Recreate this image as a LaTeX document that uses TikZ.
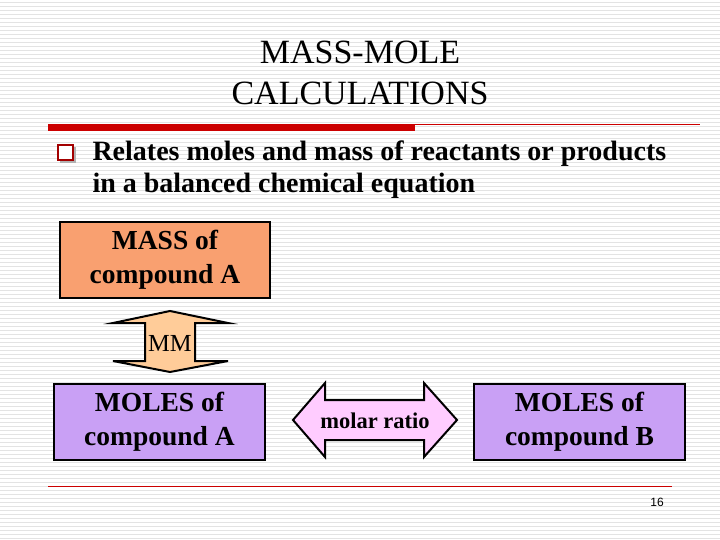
\documentclass[tikz,border=0pt]{standalone}
\usepackage{fontspec}
\setmainfont{Liberation Serif}
\newfontfamily\sansf{Liberation Sans}
\definecolor{salmon}{HTML}{F9A070}
\definecolor{lav}{HTML}{C9A0F5}
\definecolor{pinkl}{HTML}{FFCCFF}
\definecolor{peach}{HTML}{FFCC99}
\definecolor{dred}{HTML}{CC0000}
\begin{document}
\begin{tikzpicture}[x=1pt,y=-1pt,
  box/.style={draw=black,line width=2pt,align=center,font=\fontsize{27.5}{34}\selectfont\bfseries,inner sep=0pt},
  arr/.style={draw=black,line width=2pt,line join=miter}]
\useasboundingbox (0,0) rectangle (720,540);
\fill[white] (0,0) rectangle (720,540);
\foreach \y in {2,6,...,538} \draw[gray!22,line width=0.8pt] (0,\y) -- (720,\y);
\node (title) at (360,73) [align=center,font=\fontsize{34}{41}\selectfont] {MASS-MOLE\\CALCULATIONS};
\fill[dred] (48,124) rectangle (415,131);
\draw[dred,line width=0.8pt] (415,124.5) -- (700,124.5);
\fill[gray!60] (60,147) rectangle (76,163);
\draw[dred!80!black,line width=1.5pt,fill=white] (58,145) rectangle (73,160);
\node (txt) at (89,170) [anchor=west,align=left,font=\fontsize{28}{32}\selectfont\bfseries] {Relates moles and mass of reactants or products\\in a balanced chemical equation};
\node[box,fill=salmon,minimum width=210,minimum height=76] (mass) at (165,260) {MASS of\\compound A};
\node[box,fill=lav,minimum width=211,minimum height=76] (molA) at (159.5,422) {MOLES of\\compound A};
\node[box,fill=lav,minimum width=211,minimum height=76] (molB) at (579.5,422) {MOLES of\\compound B};
\draw[arr,fill=peach] (170,311) -- (228,323) -- (195,323) -- (195,361) -- (228,361) -- (170,372) -- (113,361) -- (145,361) -- (145,323) -- (113,323) -- cycle;
\node (mm) at (170,343) [font=\fontsize{24.5}{28}\selectfont] {MM};
\draw[arr,fill=pinkl] (293,420) -- (325,383) -- (325,400) -- (424,400) -- (424,383) -- (457,420) -- (424,457) -- (424,440) -- (325,440) -- (325,457) -- cycle;
\node (mr) at (375,421) [font=\fontsize{22.5}{26}\selectfont\bfseries] {molar ratio};
\draw[dred,line width=0.8pt] (48,486) -- (672,486);
\node (pg) at (657,502) [font=\sansf\fontsize{12}{14}\selectfont] {16};
\end{tikzpicture}
\end{document}
